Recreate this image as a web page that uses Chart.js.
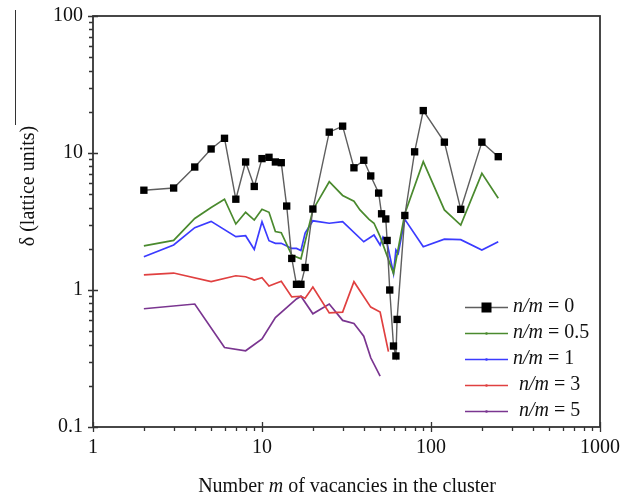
<!DOCTYPE html>
<html><head><meta charset="utf-8">
<script src="https://cdn.jsdelivr.net/npm/chart.js@4"></script>
<style>html,body{margin:0;padding:0;background:#fff}#c{display:block}</style>
</head><body>
<canvas id="c" width="635" height="498"></canvas>
<script>
// n/m = 0
const m0 = [2,3,4,5,6,7,8,9,10,11,12,13,14,15,16,17,18,20,25,30,35,40,44,49,51,54,55,57,60,62,63,70,80,90,120,150,200,250];
const d0 = [5.35,5.55,7.9,10.7,12.8,4.6,8.6,5.7,9.1,9.3,8.6,8.5,4.1,1.7,1.1,1.1,1.46,3.9,14.2,15.7,7.8,8.85,6.8,5.1,3.6,3.3,2.3,1.0,0.39,0.33,0.61,3.5,10.2,20.4,12.0,3.88,12.0,9.4];
// n/m = 0.5
const m05 = [2,3,4,5,6,7,8,9,10,11,12,13,15,17,20,25,30,35,38,43,46,50,60,70,90,120,150,200,250];
const d05 = [2.1,2.3,3.33,4.0,4.6,3.03,3.69,3.24,3.88,3.69,2.67,2.62,1.8,1.69,3.84,6.17,4.9,4.45,3.84,3.28,3.07,2.45,1.32,3.6,8.65,3.84,2.98,7.1,4.67];
// n/m = 1
const m1 = [2,3,4,5,7,8,9,10,11,12,13,15,16,17,18,20,25,30,40,46,50,52,55,60,62,64,70,90,120,150,200,250];
const d1 = [1.75,2.13,2.85,3.17,2.45,2.49,1.98,3.15,2.29,2.19,2.19,2.01,2.01,1.94,2.6,3.2,3.07,3.15,2.25,2.52,2.13,2.43,2.19,1.32,1.96,1.85,3.28,2.07,2.35,2.33,1.96,2.25];
// n/m = 3
const m3 = [2,3,5,7,8,9,10,11,13,15,17,18,20,25,30,35,44,50,56];
const d3 = [1.29,1.33,1.15,1.27,1.25,1.18,1.23,1.07,1.16,0.89,0.9,0.87,1.05,0.68,0.69,1.15,0.75,0.69,0.355];
// n/m = 5
const m5 = [2,4,6,8,10,12,16,17,20,25,30,35,38,40,44,50];
const d5 = [0.73,0.79,0.38,0.36,0.44,0.63,0.86,0.9,0.67,0.79,0.6,0.57,0.5,0.46,0.32,0.235];

const ratioLabels = ['0','0.5','1','3','5'];
const xTickLabels = ['1','10','100','1000'];
const yTickLabels = ['0.1','1','10','100'];
const xTitleParts = ['Number ','m',' of vacancies in the cluster'];
const yTitle = '\u03B4 (lattice units)';

const colors = ['#5e5e5e','#4a8a2e','#3b3bff','#e04040','#7a3590'];
const pts = (xs, ys) => xs.map((x,i)=>({x:x,y:ys[i]}));
const seriesX = [m0,m05,m1,m3,m5];
const seriesY = [d0,d05,d1,d3,d5];

const datasets = seriesX.map((xs,i)=>({
  label: 'n/m = ' + ratioLabels[i],
  data: pts(xs, seriesY[i]),
  borderColor: colors[i],
  backgroundColor: i===0 ? '#000' : colors[i],
  borderWidth: i===0 ? 1.4 : 1.7,
  pointStyle: 'rect',
  pointRadius: i===0 ? 5.2 : 0,
  pointBorderWidth: 0,
  pointBackgroundColor: '#000',
  tension: 0
}));

const SERIF = '"Liberation Serif", "Times New Roman", serif';

const deco = {
  id: 'deco',
  afterDraw(chart) {
    const ctx = chart.ctx, a = chart.chartArea;
    const xs = chart.scales.x, ys = chart.scales.y;
    ctx.save();
    // frame
    ctx.strokeStyle = '#333';
    ctx.lineWidth = 1.8;
    ctx.strokeRect(a.left, a.top, a.right - a.left, a.bottom - a.top);
    // ticks
    ctx.lineWidth = 1.3;
    ctx.beginPath();
    for (let k = 0; k < 3; k++) {
      for (let j = 1; j <= 9; j++) {
        const v = j * Math.pow(10, k);
        const px = Math.round(xs.getPixelForValue(v)) + 0.5;
        if (j === 1) { ctx.moveTo(px, a.bottom - 5); ctx.lineTo(px, a.bottom + 5); }
        else { ctx.moveTo(px, a.bottom); ctx.lineTo(px, a.bottom + 4); }
      }
    }
    let px = Math.round(xs.getPixelForValue(1000)) + 0.5;
    ctx.moveTo(px, a.bottom - 5); ctx.lineTo(px, a.bottom + 5);
    for (let k = -1; k < 2; k++) {
      for (let j = 1; j <= 9; j++) {
        const v = j * Math.pow(10, k);
        const py = Math.round(ys.getPixelForValue(v)) + 0.5;
        if (j === 1) { ctx.moveTo(a.left - 5, py); ctx.lineTo(a.left + 5, py); }
        else { ctx.moveTo(a.left - 4, py); ctx.lineTo(a.left, py); }
      }
    }
    let py = Math.round(ys.getPixelForValue(100)) + 0.5;
    ctx.moveTo(a.left - 5, py); ctx.lineTo(a.left + 5, py);
    ctx.stroke();

    // tick labels
    ctx.fillStyle = '#111';
    ctx.font = '20px ' + SERIF;
    ctx.textAlign = 'center';
    ctx.textBaseline = 'middle';
    xTickLabels.forEach(l => ctx.fillText(l, xs.getPixelForValue(parseFloat(l)), a.bottom + 21));
    ctx.textAlign = 'right';
    yTickLabels.forEach(l => ctx.fillText(l, a.left - 10, ys.getPixelForValue(parseFloat(l))));

    // x title
    const fonts = ['20px ' + SERIF, 'italic 20px ' + SERIF, '20px ' + SERIF];
    let total = 0;
    xTitleParts.forEach((t,i)=>{ ctx.font = fonts[i]; total += ctx.measureText(t).width; });
    let x = 347 - total/2;
    ctx.textAlign = 'left';
    xTitleParts.forEach((t,i)=>{ ctx.font = fonts[i]; ctx.fillText(t, x, 487); x += ctx.measureText(t).width; });

    // y title
    ctx.save();
    ctx.translate(29, 186);
    ctx.rotate(-Math.PI/2);
    ctx.font = '20px ' + SERIF;
    ctx.textAlign = 'center';
    ctx.fillText(yTitle, 0, 0);
    ctx.restore();
    ctx.strokeStyle = '#333';
    ctx.lineWidth = 1;
    ctx.beginPath();
    ctx.moveTo(15.5, 10); ctx.lineTo(15.5, 125);
    ctx.stroke();

    // legend
    chart.data.datasets.forEach((ds, i) => {
      const yy = 307 + 26 * i;
      ctx.strokeStyle = ds.borderColor;
      ctx.lineWidth = 1.6;
      ctx.beginPath(); ctx.moveTo(465, yy + 0.5); ctx.lineTo(508, yy + 0.5); ctx.stroke();
      if (i === 0) { ctx.fillStyle = '#000'; ctx.fillRect(481.5, yy - 4.5, 10, 10); }
      else { ctx.fillStyle = ds.borderColor; ctx.beginPath(); ctx.arc(486.5, yy + 0.5, 1.3, 0, Math.PI*2); ctx.fill(); }
      ctx.fillStyle = '#111';
      ctx.textAlign = 'left';
      let tx = 513 + (i >= 3 ? 6 : 0);
      ctx.font = 'italic 20px ' + SERIF;
      ctx.fillText('n/m', tx, yy);
      tx += ctx.measureText('n/m').width;
      ctx.font = '20px ' + SERIF;
      ctx.fillText(' = ' + ratioLabels[i], tx, yy);
    });
    ctx.restore();
  }
};

new Chart(document.getElementById('c'), {
  type: 'line',
  data: { datasets: datasets },
  options: {
    responsive: false,
    animation: false,
    devicePixelRatio: 1,
    layout: { padding: { top: 16, right: 35, left: 0, bottom: 0 } },
    plugins: { legend: { display: false }, tooltip: { enabled: false } },
    scales: {
      x: { type: 'logarithmic', min: 1, max: 1000,
           afterFit: s => { s.height = 71; },
           ticks: { display: false }, grid: { display: false }, border: { display: false } },
      y: { type: 'logarithmic', min: 0.1, max: 100,
           afterFit: s => { s.width = 93; },
           ticks: { display: false }, grid: { display: false }, border: { display: false } }
    }
  },
  plugins: [deco]
});
</script>
</body></html>
